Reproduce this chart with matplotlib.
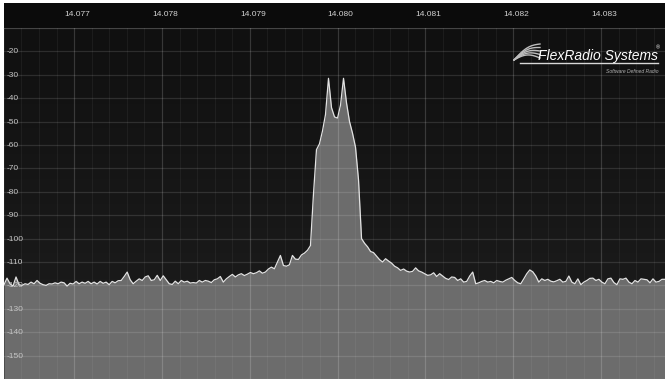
import numpy as np
import matplotlib
matplotlib.use("Agg")
import matplotlib.pyplot as plt
import matplotlib.transforms as mtransforms
from matplotlib.patches import Rectangle

# spectrum trace, dBm, evenly spaced bins across the span
f_start = 14.076202
f_stop = 14.083727
level_db = [
    -119.7, -116.9, -119.3, -120.3, -116.4, -119.7, -120.0, -119.3, -119.6, -118.6,
    -119.3, -117.9, -119.1, -119.7, -120.0, -119.3, -119.4, -118.9, -119.3, -118.6,
    -118.9, -120.3, -119.1, -119.4, -118.3, -119.3, -118.6, -119.1, -118.3, -119.3,
    -118.6, -119.4, -118.3, -119.1, -118.6, -119.7, -118.3, -118.9, -118.0, -117.9,
    -116.2, -114.3, -117.6, -119.3, -118.2, -117.2, -117.9, -116.4, -115.9, -117.9,
    -117.6, -115.7, -117.9, -115.9, -117.6, -119.3, -119.6, -118.2, -119.3, -117.9,
    -118.6, -118.2, -119.0, -118.8, -119.0, -117.9, -118.6, -117.9, -118.2, -118.8,
    -117.6, -117.2, -116.2, -118.6, -117.2, -116.2, -115.3, -116.4, -115.5, -115.0,
    -115.8, -115.2, -114.5, -115.0, -114.6, -113.8, -114.8, -114.3, -113.0, -112.2,
    -112.9, -110.0, -107.2, -111.5, -111.8, -111.2, -107.2, -108.8, -108.9, -107.0,
    -106.2, -105.0, -103.0, -81.0, -62.0, -59.5, -54.0, -47.0, -31.5, -44.0,
    -48.0, -48.5, -43.0, -31.5, -42.0, -50.0, -55.0, -61.0, -75.0, -100.0,
    -102.0, -103.5, -105.5, -106.0, -107.5, -109.0, -110.0, -108.6, -109.6, -110.5,
    -111.8, -112.5, -113.6, -113.0, -113.9, -114.3, -114.0, -112.5, -113.8, -114.3,
    -115.0, -115.7, -115.5, -114.6, -116.2, -115.0, -116.0, -117.0, -117.5, -116.4,
    -116.6, -117.9, -117.2, -118.6, -118.3, -116.0, -114.3, -119.3, -118.9, -118.3,
    -117.9, -118.6, -118.3, -118.9, -117.9, -118.3, -118.6, -117.8, -117.2, -116.6,
    -117.9, -118.9, -119.3, -117.2, -115.0, -113.4, -114.2, -116.0, -118.6, -117.2,
    -117.9, -117.4, -118.2, -118.5, -118.0, -117.4, -118.6, -118.3, -116.0, -118.6,
    -119.3, -117.2, -119.7, -118.6, -117.9, -117.0, -116.9, -117.9, -117.4, -118.6,
    -119.3, -117.2, -116.9, -118.8, -119.7, -117.2, -117.4, -116.9, -118.6, -119.3,
    -117.9, -118.6, -117.2, -117.4, -117.6, -118.9, -117.2, -118.6, -118.3, -117.4,
    -117.4,
]
freq_ticks = [14.077, 14.078, 14.079, 14.080, 14.081, 14.082, 14.083]
freq_labels = ["14.077", "14.078", "14.079", "14.080", "14.081", "14.082", "14.083"]
db_ticks = [-20, -30, -40, -50, -60, -70, -80, -90, -100, -110, -120, -130, -140, -150]
y_min, y_max = -160, -10

freqs = np.linspace(f_start, f_stop, len(level_db))

W, H = 665, 379
fig = plt.figure(figsize=(W / 100, H / 100), dpi=100)
fig.patch.set_facecolor("white")
ax = fig.add_axes([4 / W, 0, 661 / W, 351 / H])

# header bar with the frequency scale
fig.add_artist(Rectangle((4 / W, 351 / H), 661 / W, 25 / H, transform=fig.transFigure,
                         facecolor="#0b0b0b", edgecolor="none", zorder=0))

ax.set_xlim(f_start, f_stop)
ax.set_ylim(y_min, y_max)

# dark background, a bit lighter towards the bottom
grad = np.linspace(0, 1, 256).reshape(-1, 1)
bg = matplotlib.colors.LinearSegmentedColormap.from_list("bg", ["#1e1e1e", "#101010"])
ax.imshow(grad, cmap=bg, aspect="auto", origin="lower",
          extent=[f_start, f_stop, y_min, y_max], zorder=0)

ax.fill_between(freqs, level_db, y_min, color="#6c6c6c", lw=0, zorder=1)
ax.plot(freqs, level_db, color="#e2e2e2", lw=0.9, zorder=2)

# grid drawn over the trace
minor = np.arange(14.0762, 14.0838, 0.0002)
for f in minor:
    ax.axvline(f, color="white", alpha=0.05, lw=0.8, zorder=3)
for f in freq_ticks:
    ax.axvline(f, color="white", alpha=0.12, lw=0.9, zorder=3)
for d in db_ticks + [-160, -10]:
    ax.axhline(d, color="white", alpha=0.12, lw=0.9, zorder=3)

ax.set_xticks([])
ax.set_yticks([])
for s in ["left", "right", "bottom"]:
    ax.spines[s].set_visible(False)
ax.spines["top"].set_color("#2c2c2c")

tick_font = ["Liberation Sans", "DejaVu Sans"]
trans_x = mtransforms.offset_copy(
    mtransforms.blended_transform_factory(ax.transData, ax.transAxes), fig, x=3, y=0, units="dots")
for f, lab in zip(freq_ticks, freq_labels):
    ax.text(f, 1 + 14 / 351, lab, transform=trans_x, ha="center", va="center",
            color="#d2d2d2", fontsize=6, family=tick_font, clip_on=False)

trans_y = mtransforms.offset_copy(
    mtransforms.blended_transform_factory(ax.transAxes, ax.transData), fig, x=3, y=-0.5, units="dots")
for d in db_ticks:
    ax.text(0, d, str(d), transform=trans_y, ha="left", va="center",
            color="#c4c4c4", fontsize=6, family=tick_font, zorder=5)

# FlexRadio logo
def px(x, y):
    return x / W, 1 - y / H

logo_font = ["Liberation Sans", "DejaVu Sans"]
fig.text(*px(538, 60), "FlexRadio Systems", color="white", fontsize=10, style="italic",
         family=logo_font, ha="left", va="baseline")
fig.text(*px(656, 49), "®", color="white", fontsize=4, family=logo_font, ha="left", va="baseline")
fig.text(*px(658, 73), "Software Defined Radio", color="#b0b0b0", fontsize=3.6, style="italic",
         family=logo_font, ha="right", va="baseline")
fig.add_artist(plt.Line2D([520 / W, 658 / W], [1 - 63 / H, 1 - 63 / H], transform=fig.transFigure,
                          color="#d8d8d8", lw=1.0))
t = np.linspace(0, 1, 20)
for i in range(5):
    xs = 514 + 26 * t
    ys = 60 - 3.5 * i * t - 4 * np.sin(np.pi * t) - 2 * t
    fig.add_artist(plt.Line2D(xs / W, 1 - ys / H, transform=fig.transFigure,
                              color="#bdbdbd", lw=1.0))

fig.savefig("out.png", dpi=100, facecolor=fig.get_facecolor())
